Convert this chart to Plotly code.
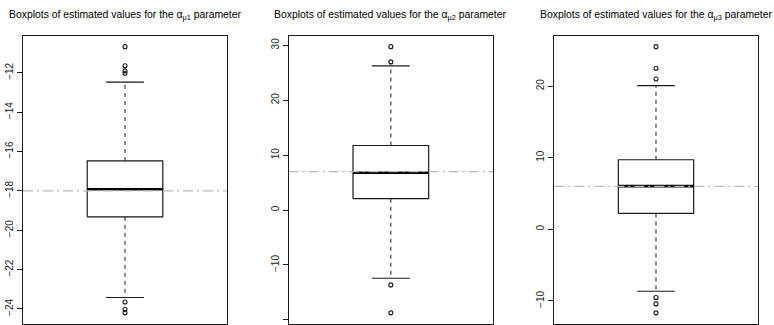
import plotly.graph_objects as go

# Summary statistics of the estimates for each parameter
params = ["μ1", "μ2", "μ3"]
true_values = [-18.0, 7.0, 6.0]
q1 = [-19.32, 2.07, 2.23]
median = [-17.92, 6.8, 6.04]
q3 = [-16.48, 11.76, 9.72]
lower_whisker = [-23.42, -12.42, -8.65]
upper_whisker = [-12.47, 26.25, 20.08]
outliers = [
    [-10.67, -11.64, -11.9, -12.02, -23.65, -24.02, -24.2],
    [29.76, 26.98, -13.63, -18.72],
    [25.52, 22.5, 21.0, -9.53, -10.42, -11.67],
]
tick_values = [
    [-24, -22, -20, -18, -16, -14, -12],
    [-20, -10, 0, 10, 20, 30],
    [-10, 0, 10, 20],
]

W, H = 774, 325
x_domains = [(23, 227), (288.7, 493), (554.3, 757.7)]
y_top, y_bot = 36, 323.5

FONT = "Liberation Sans, Arial, Helvetica, sans-serif"
INK = "#1a1a1a"
half_box = 0.2      # box half-width in x units (x axis spans 0.46..1.54)
half_cap = 0.1

fig = go.Figure()
layout = dict(
    width=W, height=H, margin=dict(l=0, r=0, t=0, b=0),
    paper_bgcolor="white", plot_bgcolor="white", showlegend=False,
    annotations=[],
)

for i in range(3):
    xa = "x" if i == 0 else f"x{i+1}"
    ya = "y" if i == 0 else f"y{i+1}"
    c = 1.0
    # whiskers (dashed)
    fig.add_trace(go.Scatter(
        x=[c, c, None, c, c],
        y=[q3[i], upper_whisker[i], None, q1[i], lower_whisker[i]],
        mode="lines", line=dict(color=INK, width=1, dash="4px,4px"),
        xaxis=xa, yaxis=ya, hoverinfo="skip"))
    # caps
    fig.add_trace(go.Scatter(
        x=[c - half_cap, c + half_cap, None, c - half_cap, c + half_cap],
        y=[upper_whisker[i], upper_whisker[i], None, lower_whisker[i], lower_whisker[i]],
        mode="lines", line=dict(color=INK, width=1.2),
        xaxis=xa, yaxis=ya, hoverinfo="skip"))
    # box
    fig.add_trace(go.Scatter(
        x=[c - half_box, c + half_box, c + half_box, c - half_box, c - half_box],
        y=[q1[i], q1[i], q3[i], q3[i], q1[i]],
        mode="lines", line=dict(color=INK, width=1.2),
        fill="toself", fillcolor="white",
        xaxis=xa, yaxis=ya, hoverinfo="skip"))
    # median
    fig.add_trace(go.Scatter(
        x=[c - half_box, c + half_box], y=[median[i], median[i]],
        mode="lines", line=dict(color="black", width=2.6),
        xaxis=xa, yaxis=ya, hoverinfo="skip"))
    # true value reference line
    fig.add_trace(go.Scatter(
        x=[0.46, 1.54], y=[true_values[i], true_values[i]],
        mode="lines", line=dict(color="#b8b8b8", width=1.4, dash="10px,4px,2px,4px"),
        xaxis=xa, yaxis=ya, hoverinfo="skip"))
    # outliers
    fig.add_trace(go.Scatter(
        x=[c] * len(outliers[i]), y=outliers[i],
        mode="markers",
        marker=dict(symbol="circle-open", size=4, color=INK, line=dict(width=1.1)),
        xaxis=xa, yaxis=ya, hoverinfo="skip"))

    all_vals = outliers[i] + [lower_whisker[i], upper_whisker[i]]
    lo, hi = min(all_vals), max(all_vals)
    pad = 0.04 * (hi - lo)

    x0, x1 = x_domains[i]
    layout["xaxis" if i == 0 else f"xaxis{i+1}"] = dict(
        domain=[x0 / W, x1 / W], range=[0.46, 1.54], anchor=ya,
        showticklabels=False, ticks="", showgrid=False, zeroline=False,
        showline=True, mirror=True, linecolor=INK, linewidth=1)
    layout["yaxis" if i == 0 else f"yaxis{i+1}"] = dict(
        domain=[1 - y_bot / H, 1 - y_top / H], range=[lo - pad, hi + pad], anchor=xa,
        tickmode="array", tickvals=tick_values[i],
        ticktext=[f"\u2212{abs(v)}" if v < 0 else str(v) for v in tick_values[i]],
        tickangle=-90, ticks="outside", ticklen=5, tickcolor=INK, tickwidth=1,
        tickfont=dict(family=FONT, size=10, color=INK),
        showgrid=False, zeroline=False,
        showline=True, mirror=True, linecolor=INK, linewidth=1)
    layout["annotations"].append(dict(
        text=f"Boxplots of estimated values for the α<sub>{params[i]}</sub> parameter",
        x=(x0 + x1) / 2 / W, y=1 - 15 / H, xref="paper", yref="paper",
        xanchor="center", yanchor="middle", showarrow=False,
        font=dict(family=FONT, size=10.4, color="black")))

fig.update_layout(**layout)
fig.write_html("out.html")
